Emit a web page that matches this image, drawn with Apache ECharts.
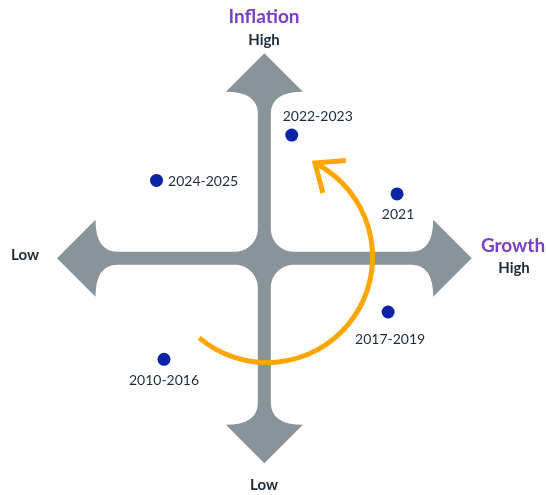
<!DOCTYPE html>
<html>
<head>
<meta charset="utf-8">
<script src="https://cdn.jsdelivr.net/npm/echarts@6/dist/echarts.min.js"></script>
<style>
  html, body { margin: 0; padding: 0; background: #fff; }
  #chart { width: 546px; height: 495px; }
</style>
</head>
<body>
<div id="chart"></div>
<script>
// periods plotted on growth (x) / inflation (y), both scaled -1..1 to the arrow tips
const periods = ['2024-2025', '2022-2023', '2021', '2017-2019', '2010-2016'];
const growth = [-0.52, 0.132, 0.64, 0.597, -0.484];
const inflation = [0.38, 0.601, 0.314, -0.262, -0.493];

// the orange cycle arrow
const cycleCenter = [0.013, 0.006];
const cycleRadius = 0.509;
const cycleAngles = [130, -63]; // degrees, screen orientation

const FONT = 'Lato, "Open Sans", sans-serif';
const GREY = '#88939a';
const ORANGE = '#ffa600';
const INK = '#1c2b3b';

const labelLayout = {
  '2024-2025': { position: 'right', offset: [0, 1] },
  '2022-2023': { position: 'top', offset: [26, 0] },
  '2021': { position: 'bottom', offset: [1, 2] },
  '2017-2019': { position: 'bottom', offset: [2, 9] },
  '2010-2016': { position: 'bottom', offset: [0, 3] },
}

function renderCross(params, api) {
  const c = api.coord([0, 0])
  const cx = c[0], cy = c[1]
  const T = api.coord([0, 1])[1]
  const B = api.coord([0, -1])[1]
  const L = api.coord([-1, 0])[0]
  const R = api.coord([1, 0])[0]
  const s = 6.5, a = 38.5, w = 38.5, f = 22, r = 23, k = 0.552
  const p = [
    'M', cx, T,
    'L', cx + w, T + a,
    'Q', cx + s, T + a, cx + s, T + a + f,
    'L', cx + s, cy - s - r,
    'C', cx + s, cy - s - r + k * r, cx + s + r - k * r, cy - s, cx + s + r, cy - s,
    'L', R - a - f, cy - s,
    'Q', R - a, cy - s, R - a, cy - w,
    'L', R, cy,
    'L', R - a, cy + w,
    'Q', R - a, cy + s, R - a - f, cy + s,
    'L', cx + s + r, cy + s,
    'C', cx + s + r - k * r, cy + s, cx + s, cy + s + r - k * r, cx + s, cy + s + r,
    'L', cx + s, B - a - f,
    'Q', cx + s, B - a, cx + w, B - a,
    'L', cx, B,
    'L', cx - w, B - a,
    'Q', cx - s, B - a, cx - s, B - a - f,
    'L', cx - s, cy + s + r,
    'C', cx - s, cy + s + r - k * r, cx - s - r + k * r, cy + s, cx - s - r, cy + s,
    'L', L + a + f, cy + s,
    'Q', L + a, cy + s, L + a, cy + w,
    'L', L, cy,
    'L', L + a, cy - w,
    'Q', L + a, cy - s, L + a + f, cy - s,
    'L', cx - s - r, cy - s,
    'C', cx - s - r + k * r, cy - s, cx - s, cy - s - r + k * r, cx - s, cy - s - r,
    'L', cx - s, T + a + f,
    'Q', cx - s, T + a, cx - w, T + a,
    'Z',
  ].join(' ')
  return {
    type: 'path',
    shape: { pathData: p },
    style: { fill: GREY },
  }
}

function renderCycle(params, api) {
  const c = api.coord([api.value(0), api.value(1)])
  const rad = api.size([cycleRadius, 0])[0]
  const a0 = cycleAngles[0] * Math.PI / 180
  const a1 = cycleAngles[1] * Math.PI / 180
  const tip = [c[0] + rad * Math.cos(a1), c[1] + rad * Math.sin(a1)]
  // chevron follows the chord to a point ~30px back along the arc
  const back = a1 + 30 / rad
  const bp = [c[0] + rad * Math.cos(back), c[1] + rad * Math.sin(back)]
  const dir = Math.atan2(bp[1] - tip[1], bp[0] - tip[0])
  const len = 31, spread = 40 * Math.PI / 180
  const arm1 = [tip[0] + len * Math.cos(dir - spread), tip[1] + len * Math.sin(dir - spread)]
  const arm2 = [tip[0] + len * Math.cos(dir + spread), tip[1] + len * Math.sin(dir + spread)]
  return {
    type: 'group',
    children: [
      {
        type: 'arc',
        shape: { cx: c[0], cy: c[1], r: rad, startAngle: a0, endAngle: a1, clockwise: false },
        style: { stroke: ORANGE, lineWidth: 5, fill: null },
      },
      {
        type: 'polyline',
        shape: { points: [arm1, tip, arm2] },
        style: { stroke: ORANGE, lineWidth: 5, fill: null, lineJoin: 'miter' },
      },
    ],
  }
}

const points = periods.map((name, i) => ({
  name,
  value: [growth[i], inflation[i]],
  label: labelLayout[name],
}))

const titleText = (text, x, y, size, color) => ({
  type: 'text',
  x, y,
  style: {
    text, fill: color, font: 'bold ' + size + 'px ' + FONT,
    align: 'center', verticalAlign: 'middle',
  },
})

const option = {
  animation: false,
  grid: { left: 57, right: 74.3, top: 53.3, bottom: 31.7 },
  xAxis: { type: 'value', min: -1, max: 1, show: false },
  yAxis: { type: 'value', min: -1, max: 1, show: false },
  graphic: [
    titleText('Inflation', 264, 17, 19, '#7b3fc6'),
    titleText('High', 264, 40, 15, INK),
    titleText('Growth', 513, 246, 19, '#7b3fc6'),
    titleText('High', 514, 268, 15, INK),
    titleText('Low', 25, 255, 15, INK),
    titleText('Low', 264, 485, 15, INK),
  ],
  series: [
    {
      type: 'custom',
      silent: true,
      renderItem: renderCross,
      data: [[0, 0]],
      z: 1,
    },
    {
      type: 'custom',
      silent: true,
      renderItem: renderCycle,
      data: [cycleCenter],
      z: 2,
    },
    {
      type: 'scatter',
      symbolSize: 13,
      itemStyle: { color: '#0b24a6', opacity: 1 },
      label: {
        show: true,
        formatter: '{b}',
        color: INK,
        fontSize: 14,
        fontFamily: FONT,
      },
      data: points,
      z: 3,
    },
  ],
}

const chart = echarts.init(document.getElementById('chart'))
chart.setOption(option)
</script>
</body>
</html>
